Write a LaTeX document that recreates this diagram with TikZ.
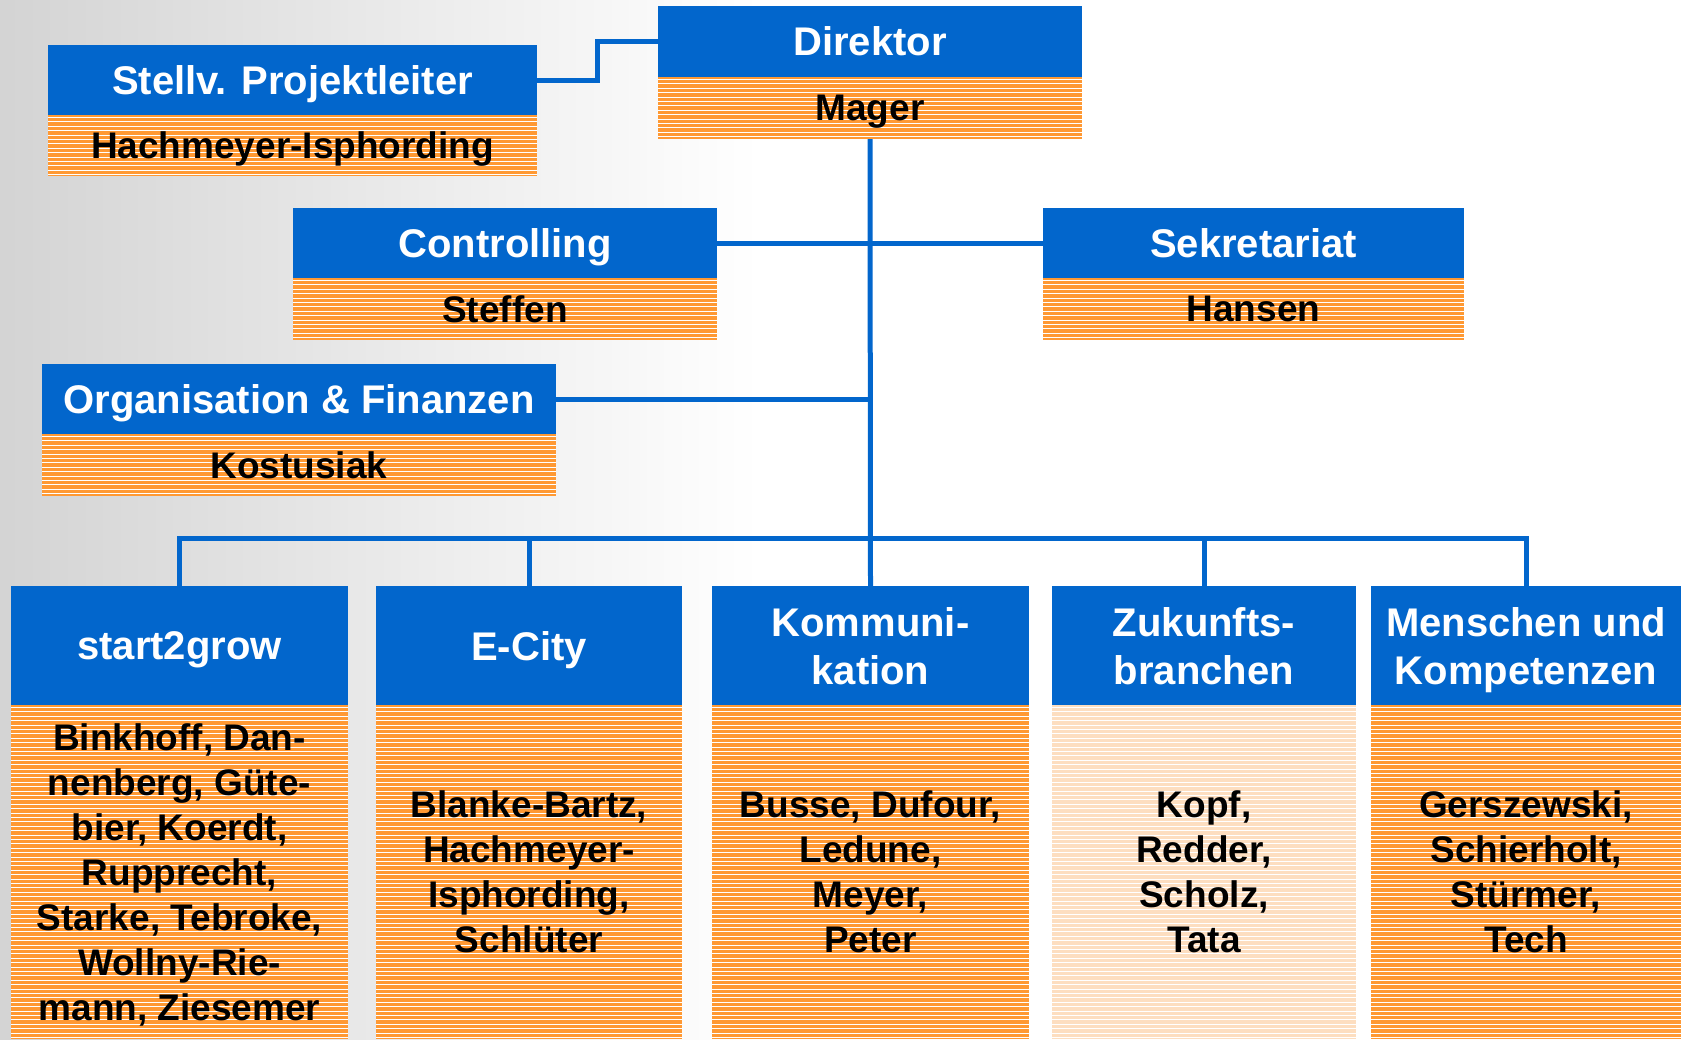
\documentclass[tikz,border=0pt]{standalone}
\usepackage{fontspec}
\setmainfont{Liberation Sans}
\definecolor{hblue}{RGB}{2,102,204}
\definecolor{orng}{RGB}{255,153,51}
\definecolor{pale}{RGB}{253,222,192}
\begin{document}
\begin{tikzpicture}[x=1pt,y=-1pt,
  headbox/.style={fill=hblue, text=white, inner sep=0pt, align=center, text depth=0pt,
    font=\bfseries\fontsize{40}{48}\selectfont},
  stripes/.style={path picture={\foreach \k in {0,...,80}{\draw[white,line width=1pt]
      ([yshift=-2.5pt-\k*4.4pt]path picture bounding box.north west) -- ++(2000pt,0pt);}}},
  namebox/.style={fill=orng, stripes, text=black, inner sep=0pt, align=center, text depth=0pt,
    font=\bfseries\fontsize{37}{45}\selectfont},
  palebox/.style={namebox, fill=pale},
  conn/.style={draw=hblue, line width=5pt}]
\useasboundingbox (0,0) rectangle (1681,1039);
\shade[left color=black!17, right color=white] (0,0) rectangle (760,1039);

% top units
\node[headbox, minimum width=424, minimum height=71] (dirH) at (870,41.5) {Direktor};
\node[namebox, minimum width=424, minimum height=62] (dirN) at (870,108) {Mager};
\node[headbox, minimum width=489, minimum height=70] (stvH) at (292.5,80) {Stellv. Projektleiter};
\node[namebox, minimum width=489, minimum height=61] (stvN) at (292.5,145.5) {Hachmeyer-Isphording};
\node[headbox, minimum width=424, minimum height=70] (ctrH) at (505,243) {Controlling};
\node[namebox, minimum width=424, minimum height=62] (ctrN) at (505,309) {Steffen};
\node[headbox, minimum width=421, minimum height=70] (sekH) at (1253.5,243) {Sekretariat};
\node[namebox, minimum width=421, minimum height=62] (sekN) at (1253.5,309) {Hansen};
\node[headbox, minimum width=514, minimum height=70] (orgH) at (299,399) {Organisation \& Finanzen};
\node[namebox, minimum width=514, minimum height=62] (orgN) at (299,465) {Kostusiak};

% bottom units
\node[headbox, minimum width=337, minimum height=119] (s2gH) at (179.5,645.5) {start2grow};
\node[namebox, minimum width=337, minimum height=334] (s2gN) at (179.5,872)
  {Binkhoff, Dan-\\nenberg, Güte-\\bier, Koerdt,\\Rupprecht,\\Starke, Tebroke,\\Wollny-Rie-\\mann, Ziesemer};
\node[headbox, minimum width=306, minimum height=119] (ecH) at (529,645.5) {E-City};
\node[namebox, minimum width=306, minimum height=334] (ecN) at (529,872)
  {Blanke-Bartz,\\Hachmeyer-\\Isphording,\\Schlüter};
\node[headbox, minimum width=317, minimum height=119] (koH) at (870.5,645.5) {Kommuni-\\kation};
\node[namebox, minimum width=317, minimum height=334] (koN) at (870.5,872)
  {Busse, Dufour,\\Ledune,\\Meyer,\\Peter};
\node[headbox, minimum width=304, minimum height=119] (zuH) at (1204,645.5) {Zukunfts-\\branchen};
\node[palebox, minimum width=304, minimum height=334] (zuN) at (1204,872)
  {Kopf,\\Redder,\\Scholz,\\Tata};
\node[headbox, minimum width=310, minimum height=119] (meH) at (1526,645.5) {Menschen und\\Kompetenzen};
\node[namebox, minimum width=310, minimum height=334] (meN) at (1526,872)
  {Gerszewski,\\Schierholt,\\Stürmer,\\Tech};

% connectors
\coordinate (bus) at (870,538);
\draw[conn] (dirN.south) -- (koH.north);
\draw[conn] (stvH.east) -- ++(60,0) |- (dirH.west);
\draw[conn] (ctrH.east) -- (sekH.west);
\draw[conn] (orgH.east) -- (orgH.east -| dirN.south);
\draw[conn] (s2gH.north) -- (s2gH.north |- bus) -- (meH.north |- bus) -- (meH.north);
\draw[conn] (ecH.north) -- (ecH.north |- bus);
\draw[conn] (zuH.north) -- (zuH.north |- bus);
\end{tikzpicture}
\end{document}
